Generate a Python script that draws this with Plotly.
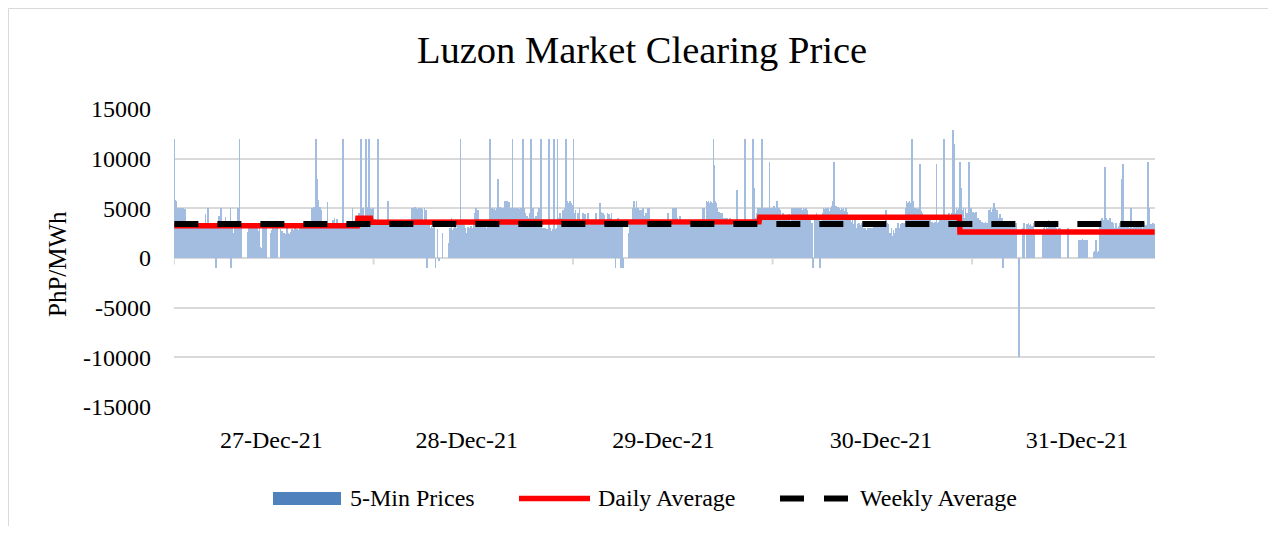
import numpy as np
import plotly.graph_objects as go

# ---------------- data ----------------
# 5-minute prices, PhP/MWh, one row = one hour (12 intervals)
DEC27 = [
    12000, 5800, 5700, 5050, 4980, 5020, 4950, 5000, 4900, 5010, 4850, 4990,
    5000, 4920, 4980, 4800, 4950, 3520, 3480, 3510, 3390, 3500, 3450, 3300,
    3480, 3510, 3200, 2900, 3450, 3500, 3380, 2400, 3460, 3520, 3100, 3490,
    3500, 3420, 3480, 2800, 3510, 3490, 3300, 3470, 3500, 4400, 3450, 3380,
    3490, 5000, 3460, 3500, 3200, 3480, 2600, 3400, 3510, 3470, 3350, 3490,
    -1000, 2500, 3400, 2100, 4200, 3480, 3000, 5000, 4950, 3450, 2200, 3500,
    3480, 3200, 4100, 3490, 2900, 3470, 3500, 3000, 3450, 5000, -1000, 3400,
    3480, 2500, 0, 3300, 3460, 2800, 3500, 3000, 5000, 3420, 12000, 3300,
    3000, 0, 0, 0, 0, 0, 0, 0, 0, 0, 2600, 3400,
    3100, 2800, 0, 3300, 3450, 2500, 3000, 0, 3400, 3200, 2900, 3350,
    3000, 0, 2700, 3350, 1100, 1000, 0, 900, 3200, 3300, 2800, 3400,
    2600, 3100, 0, 0, 0, 0, 0, 0, 2500, 2800, 3300, 3000,
    2900, 2400, 3000, 2800, 3100, 2600, 0, 0, 0, 2900, 2300, 2700,
    2100, 2300, 2500, 2200, 2400, 2450, 2100, 3000, 2500, 2300, 2400, 2200,
    2600, 2500, 2900, 2700, 2400, 2800, 3000, 2650, 2500, 2900, 2750, 2600,
    2800, 3100, 2700, 3400, 2900, 3300, 3000, 2600, 3350, 3200, 2950, 3450,
    3300, 3450, 3500, 3200, 3400, 3500, 3450, 5000, 3400, 4900, 5100, 3500,
    12000, 12000, 8000, 5800, 5000, 4900, 5100, 3500, 4800, 3450, 3500, 3400,
    3500, 3450, 3300, 3500, 3480, 5600, 3420, 3500, 3400, 3350, 3500, 3450,
    3500, 3800, 3450, 4000, 3500, 3400, 3480, 3900, 3500, 3450, 3300, 3500,
    3480, 3400, 3500, 12000, 7500, 3450, 3500, 3300, 3480, 3500, 3420, 3500,
    3450, 2500, 3500, 3000, 2000, 5000, 3400, 3500, 2800, 3450, 3500, 3300,
    3500, 3480, 3000, 4500, 3500, 12000, 3400, 4000, 5000, 3450, 4200, 3500,
    4800, 12000, 5000, 4900, 5100, 12000, 4800, 5000, 4950, 3500, 4800, 5000,
]
DEC28 = [
    3500, 3450, 3900, 3300, 3500, 3600, 12000, 3400, 3500, 3450, 3700, 3500,
    3480, 3500, 3400, 3500, 3450, 3500, 3300, 3480, 5700, 3500, 3400, 3450,
    3500, 3350, 3480, 3500, 3400, 3500, 3300, 3450, 3500, 3480, 3400, 3500,
    3450, 3500, 3300, 3480, 3500, 3400, 3450, 3500, 3350, 3500, 3480, 3400,
    3300, 3500, 3000, 3450, 3200, 3500, 3000, 5000, 4900, 5000, 3400, 5100,
    4800, 5000, 3000, 4900, 3500, 5000, 4800, 3200, 5000, 3400, 4900, 3500,
    3000, 5000, 3500, 4800, 3000, -1000, 3400, 2800, 3500, 3000, 2500, 3200,
    3000, 2800, 0, 3100, 0, -1000, 0, 0, 2900, 0, -300, 0,
    0, 0, 0, 2500, 0, 0, 0, 0, 0, 0, 0, 0,
    1500, 2500, 3000, 2000, 4000, 2800, 1800, 3000, 2500, 3100, 2200, 3000,
    2800, 3300, 2500, 3500, 3000, 12000, 3200, 3400, 2700, 3500, 3300, 3000,
    3000, 2500, 1800, 3000, 3100, 2400, 3000, 2000, 3200, 2800, 3000, 2600,
    3000, 3500, 4500, 5000, 3200, 3500, 4800, 3000, 3500, 3400, 3000, 3300,
    2800, 3300, 2500, 3500, 2200, 3400, 3000, 2600, 3500, 2400, 3300, 3000,
    12000, 5000, 4800, 5000, 4900, 3500, 5000, 4800, 3400, 5000, 4900, 8000,
    4800, 5000, 5100, 4900, 5000, 4800, 5000, 4500, 5000, 5700, 5600, 5000,
    5700, 5000, 4800, 5600, 4900, 5000, 4800, 5000, 12000, 4500, 5000, 4800,
    4500, 5000, 4800, 4600, 5000, 4500, 4900, 4800, 5000, 4600, 4800, 12000,
    4000, 5000, 3500, 4500, 3800, 4200, 3500, 4000, 3600, 4500, 3500, 12000,
    3500, 4500, 5000, 3800, 4000, 3500, 4200, 3600, 3500, 4600, 5000, 3500,
    2800, 12000, 2500, 2900, 3000, 2600, 2800, 3000, 2500, 2700, 2900, 2700,
    3000, 12000, 2500, 3000, 2700, 2600, 2900, 2600, 12000, 2800, 2500, 2900,
    3000, 12000, 4000, 2500, 3800, 4500, 3000, 4000, 3500, 4800, 3900, 4200,
    5000, 12000, 12000, 5700, 5500, 5000, 5200, 5700, 5000, 5500, 5300, 5000,
]
DEC29 = [
    12000, 4500, 3000, 4800, 3500, 0, 3200, 4500, 3000, 5000, 3500, 2800,
    3500, 3000, 4500, 3200, 3500, 4400, 3000, 3500, 3300, 4500, 3400, 3000,
    3300, 3500, 3000, 3400, 3500, 3200, 3500, 3100, 3400, 4500, 3300, 3500,
    3400, 3500, 5500, 4500, 4600, 3500, 4400, 4500, 3500, 4300, 3400, 3500,
    3500, 4500, 3600, 4400, 3500, 4000, 3400, 4500, 3500, 3800, 3600, 3500,
    3400, -1000, 3500, 3000, 4000, 3500, 3200, 3400, 3000, -1000, 3300, 3000,
    -1000, 0, 0, 0, 0, 0, 0, 0, 2500, 3000, 3400, 3000,
    3200, 3500, 5000, 5700, 5600, 4800, 5000, 5700, 4500, 5000, 4600, 4800,
    4500, 3500, 4800, 3600, 5000, 3500, 4200, 3800, 3500, 4500, 3600, 5000,
    3400, 5000, 3300, 3500, 3000, 3400, 3500, 3200, 3500, 3300, 3000, 3500,
    3500, 3300, 3400, 3000, 3500, 3200, 3500, 3450, 3100, 3500, 3400, 3300,
    3200, 3500, 3000, 3400, 3500, 4500, 3300, 3500, 3100, 3400, 3500, 3300,
    5000, 4800, 5000, 4900, 5000, 3500, 4000, 3500, 3800, 3500, 4200, 3500,
    3500, 3300, 3400, 3000, 3500, 3200, 0, 3400, 3500, 3300, 3000, 3500,
    3300, 3500, 3400, 3100, 3500, 3300, 3000, 3400, 3500, 3200, 3500, 3300,
    3400, 3500, 3200, 3500, 3300, 3000, 3500, 5000, 4800, 5000, 3500, 3400,
    5700, 5600, 5000, 5700, 5500, 5000, 5700, 5600, 5000, 5500, 12000, 9400,
    5700, 5000, 5500, 4800, 5000, 4500, 4600, 4500, 4000, 4500, 4400, 4500,
    4000, 3500, 3800, 4000, 3600, 3500, 4000, 3800, 3500, 3700, 4000, 3600,
    3500, 3300, 3000, 3400, 3500, 3200, 3000, 3500, 6800, 3300, 3500, 3100,
    3500, 3400, 3600, 3500, 3300, 3500, 3600, 3400, 12000, 3500, 3300, 3600,
    3500, 3400, 3600, 3500, 3300, 3500, 3400, 12000, 3500, 7000, 3300, 3500,
    4000, 4500, 5000, 4800, 4200, 5000, 4500, 4800, 12000, 9700, 5000, 4800,
    5000, 4800, 5000, 4900, 5000, 4800, 5000, 9700, 5000, 4900, 5000, 4800,
]
DEC30 = [
    5000, 4500, 5200, 5000, 4800, 5500, 5700, 5000, 4600, 5000, 4800, 4500,
    3500, 4000, 3600, 4500, 3500, 3800, 4200, 3500, 4000, 3600, 3500, 4400,
    3500, 3400, 3600, 3500, 5000, 4900, 5000, 4800, 5000, 5000, 4900, 5000,
    5000, 3500, 4900, 5000, 3600, 5000, 4800, 3500, 5000, 4900, 3500, 5000,
    5000, 4800, 3500, 3600, 4000, 3500, 3800, 3500, 0, 3500, -1000, 0,
    3500, 4000, 3600, 4500, 3500, 3800, 3500, 4200, -1000, 3600, 3500, 4000,
    4500, 5000, 4800, 4900, 5000, 4600, 5000, 4800, 5000, 4700, 4500, 5000,
    5000, 5200, 4900, 5700, 9700, 5700, 5000, 5200, 4800, 5000, 5100, 4900,
    5000, 4800, 4600, 5000, 4500, 4900, 5000, 4700, 4500, 5000, 4800, 4600,
    3500, 4000, 3200, 3800, 3000, 3600, 3500, 4000, 3400, 3000, 3800, 3500,
    3000, 2500, 3400, 2000, 3500, 3000, 2200, 3300, 2800, 3500, 2500, 3000,
    2000, 3000, 1500, 2800, 2500, 3000, 1800, 2600, 3000, 2200, 2800, 3000,
    3000, 3500, 2500, 3300, 3000, 3500, 2800, 3400, 3500, 3000, 3200, 3500,
    3300, 3500, 3000, 3400, 3500, 3200, 3500, 4800, 3300, 3500, 3000, 3400,
    2000, 2500, 1800, 3000, 2200, 1900, 2800, 2000, 2500, 1800, 3000, 2400,
    2800, 3500, 3000, 2500, 3400, 3000, 3500, 2800, 3300, 3500, 3000, 3200,
    5000, 5700, 5500, 5000, 5600, 5700, 5000, 5500, 9500, 12000, 5700, 5000,
    4800, 5000, 4500, 5000, 4900, 4600, 5000, 4800, 9500, 5000, 4700, 4500,
    3500, 4000, 3800, 3600, 4000, 3500, 3900, 3700, 4000, 3500, 3600, 3800,
    3500, 3400, 3600, 3500, 3300, 3500, 3600, 3400, 9500, 3500, 3400, 3600,
    3500, 4000, 3800, 3600, 4000, 3500, 3900, 12000, 3700, 4000, 3500, 3800,
    4000, 3500, 4500, 3800, 4200, 3600, 4500, 4000, 12900, 11500, 4500, 4000,
    4500, 5000, 4800, 4000, 5000, 4500, 9700, 7000, 5000, 4800, 4500, 5000,
    3500, 4000, 5000, 3600, 4500, 3800, 4000, 9700, 5000, 4900, 5000, 4500,
]
DEC31 = [
    3500, 4600, 4000, 4500, 3600, 4600, 4200, 3500, 4000, 3600, 3500, 3800,
    3500, 3400, 3600, 3500, 3300, 3500, 3400, 3600, 3500, 3300, 3500, 4500,
    4800, 4500, 5000, 4600, 4500, 4900, 4800, 5500, 4600, 5000, 4500, 4800,
    4500, 3500, 4000, 3600, 4400, 3500, 3800, 4000, -1000, 3500, 3400, 3600,
    3000, 3500, 3200, 3400, 3000, 3500, 3300, 3000, 3500, 3400, 3100, 3500,
    3500, 3400, 3000, 3500, 0, 0, 0, -10000, -1900, 0, 0, 0,
    0, 3000, 3500, 3200, 0, 0, 2500, 3400, 3000, 3500, 3300, 3000,
    3400, 3000, 3200, 3000, 3500, 2800, 0, 0, 0, 0, 0, 0,
    0, 0, 0, 0, 0, 0, 2500, 3000, 3500, 2800, 2000, 3300,
    3000, 2500, 3800, 3500, 2600, 3200, 3000, 2500, 3400, 2800, 3000, 3500,
    2500, 3000, 2800, 2600, 3000, 2500, 3000, 2700, 0, 0, 0, 0,
    0, 0, 0, 0, 0, 0, 3000, 0, 0, 0, 0, 0,
    0, 0, 0, 0, 0, 0, 0, 0, 0, 0, 1800, 1800,
    1700, 1800, 1800, 1900, 1800, 1700, 1800, 1800, 1750, 1800, 1800, 0,
    0, 0, 0, 0, 0, 0, 0, 600, 700, 600, 1800, 600,
    650, 600, 700, 0, 3500, 3800, 3600, 4000, 3500, 3700, 3800, 9200,
    3500, 4000, 3600, 3000, 3800, 3500, 3200, 4000, 3400, 3600, 3000, 3500,
    2000, 3000, 2500, 3500, 2200, 3000, 1800, 3200, 2600, 3500, 2400, 3000,
    8000, 9500, 2500, 3200, 3500, 2800, 3300, 2600, 3000, 3500, 2500, 3000,
    3200, 5000, 2500, 3000, 2000, 3500, 2800, 2200, 3300, 2500, 3000, 3400,
    3000, 2500, 3300, 2800, 3500, 3000, 2600, 3200, 3500, 2800, 3000, 3300,
    3000, 9700, 3500, 5000, 3200, 3000, 3400, 3300, 3000, 3500, 3200, 3400,
]
DAY_LABELS = ["27-Dec-21", "28-Dec-21", "29-Dec-21", "30-Dec-21", "31-Dec-21"]

# daily average levels (PhP/MWh) and how many 5-min intervals each level spans
AVG_LEVELS = [3250, 4000, 3600, 3650, 4090, 2610]
AVG_SPANS = [265, 19, 292, 269, 289, 282]
WEEKLY_AVG = 3420

Y_TICKS = [-15000, -10000, -5000, 0, 5000, 10000, 15000]

# ---------------- assemble ----------------
days = [DEC27, DEC28, DEC29, DEC30, DEC31]
prices = np.array(sum(days, []), dtype=float)
n = len(prices)
idx = np.arange(n)
day_starts = np.concatenate([[0], np.cumsum([len(d) for d in days])[:-1]])
daily_line = np.repeat(AVG_LEVELS, AVG_SPANS)[:n]
weekly_line = np.full(n, WEEKLY_AVG)

# label positions (interval index) as placed in the reference
label_pos = [140, 422, 706, 1020, 1303]

# page geometry (the figure div sits 8px in from the page corner)
OFF = 8
PAGE_W, PAGE_H = 1276, 534
W, H = PAGE_W - 2 * OFF, PAGE_H - 2 * OFF
L, R, T, B = 174, 1155, 109, 407          # plot area in page pixels
FONT = "Liberation Serif"


def px_x(px):
    return (px - L) / (R - L)


def px_y(py):
    return (B - py) / (B - T)


fig = go.Figure()
fig.add_trace(go.Bar(
    x=idx, y=prices, name="5-Min Prices",
    marker=dict(color="#a3bde0", line=dict(width=0)),
    showlegend=False, hoverinfo="skip",
))
fig.add_trace(go.Scatter(
    x=idx, y=daily_line, name="Daily Average", mode="lines",
    line=dict(color="#ff0000", width=5.5), showlegend=False, hoverinfo="skip",
))
fig.add_trace(go.Scatter(
    x=idx, y=weekly_line, name="Weekly Average", mode="lines",
    line=dict(color="#000000", width=6, dash="24px,19px"),
    showlegend=False, hoverinfo="skip",
))

shapes = []
# category-boundary tick marks on the zero axis
for s in day_starts:
    shapes.append(dict(type="line", xref="x", yref="y", x0=s - 0.5, x1=s - 0.5,
                       y0=0, y1=-650, line=dict(color="#d9d9d9", width=2)))
# chart-area border
shapes.append(dict(type="rect", xref="paper", yref="paper",
                   x0=px_x(OFF + 0.5), x1=px_x(1400), y0=px_y(700), y1=px_y(OFF + 0.5),
                   line=dict(color="#d9d9d9", width=1), layer="below"))
# manual legend symbols
shapes.append(dict(type="rect", xref="paper", yref="paper",
                   x0=px_x(273), x1=px_x(341), y0=px_y(505), y1=px_y(492),
                   fillcolor="#4f81bd", line=dict(width=0)))
shapes.append(dict(type="line", xref="paper", yref="paper",
                   x0=px_x(519), x1=px_x(590), y0=px_y(498.5), y1=px_y(498.5),
                   line=dict(color="#ff0000", width=5.5)))
shapes.append(dict(type="line", xref="paper", yref="paper",
                   x0=px_x(780), x1=px_x(849), y0=px_y(498.5), y1=px_y(498.5),
                   line=dict(color="#000000", width=6, dash="24px,20px")))

annotations = [
    dict(text="Luzon Market Clearing Price", xref="paper", yref="paper",
         x=px_x(642), y=px_y(50), xanchor="center", yanchor="middle",
         showarrow=False, font=dict(family=FONT, size=38.5, color="#000000")),
    dict(text="PhP/MWh", xref="paper", yref="paper", textangle=-90,
         x=px_x(57), y=px_y(264), xanchor="center", yanchor="middle",
         showarrow=False, font=dict(family=FONT, size=25, color="#000000")),
]
for txt, x0 in zip(["5-Min Prices", "Daily Average", "Weekly Average"], [348, 596, 858]):
    annotations.append(dict(text=txt, xref="paper", yref="paper",
                            x=px_x(x0), y=px_y(498), xanchor="left", yanchor="middle",
                            showarrow=False,
                            font=dict(family=FONT, size=24, color="#000000")))

fig.update_layout(
    width=W, height=H,
    margin=dict(l=L - OFF, r=W - (R - OFF), t=T - OFF, b=H - (B - OFF), pad=0),
    paper_bgcolor="#ffffff", plot_bgcolor="#ffffff",
    bargap=0, barmode="overlay",
    showlegend=False,
    shapes=shapes, annotations=annotations,
    font=dict(family=FONT, size=24, color="#000000"),
)
fig.update_xaxes(
    range=[-0.5, n - 0.5], showgrid=False, zeroline=False, showline=False,
    tickmode="array", tickvals=label_pos, ticktext=DAY_LABELS,
    ticks="", ticklabelstandoff=16,
    tickfont=dict(family=FONT, size=24, color="#000000"),
)
fig.update_yaxes(
    range=[-15000, 15000], tickmode="array", tickvals=Y_TICKS,
    ticktext=[str(v) for v in Y_TICKS],
    showgrid=True, gridcolor="#d9d9d9", gridwidth=1.5,
    zeroline=True, zerolinecolor="#d9d9d9", zerolinewidth=1.5,
    showline=False, ticks="", ticklabelstandoff=22,
    tickfont=dict(family=FONT, size=24, color="#000000"),
)

fig.write_html("out.html")
